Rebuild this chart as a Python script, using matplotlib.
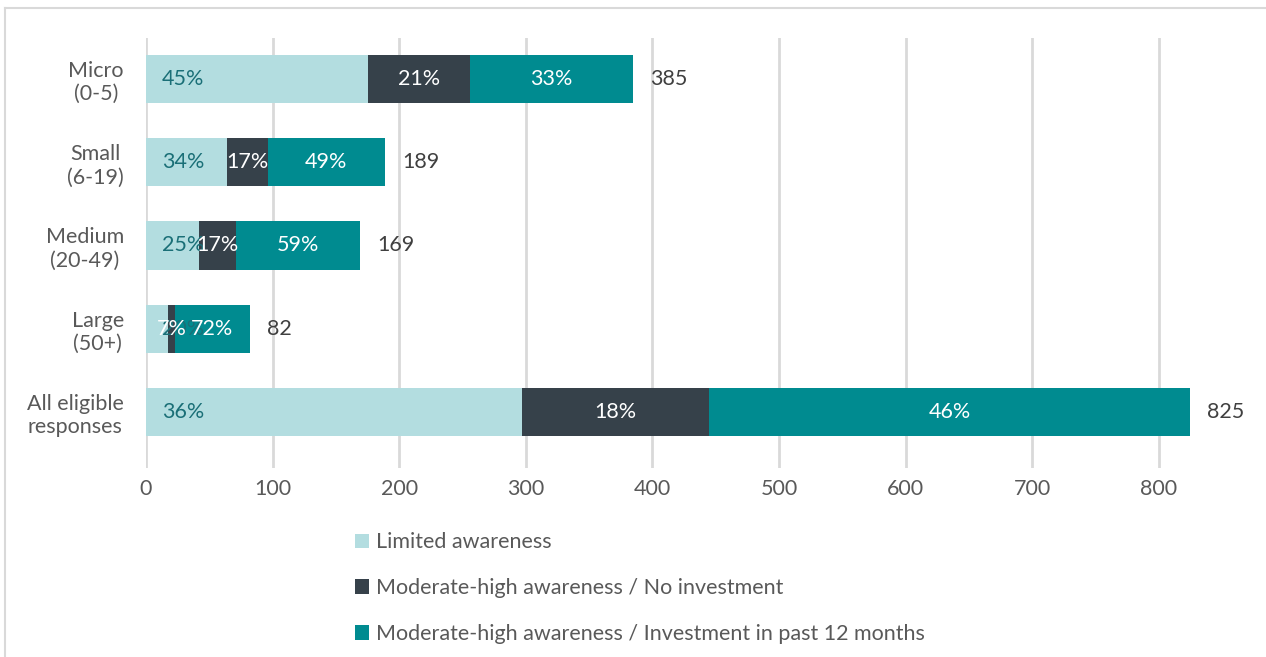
import numpy as np
import matplotlib.pyplot as plt
from matplotlib.lines import Line2D

plt.rcParams['font.family'] = ['Lato', 'DejaVu Sans']

# data (counts per segment)
categories = ['Micro\n(0-5)', 'Small\n(6-19)', 'Medium\n(20-49)', 'Large\n(50+)',
              'All eligible\nresponses']
limited = [175, 64, 42, 17, 297]
no_invest = [81, 32, 29, 6, 148]
invest = [129, 93, 98, 59, 380]
pct_limited = ['45%', '34%', '25%', '20%', '36%']
pct_no_invest = ['21%', '17%', '17%', '7%', '18%']
pct_invest = ['33%', '49%', '59%', '72%', '46%']
series_names = ['Limited awareness',
                'Moderate-high awareness / No investment',
                'Moderate-high awareness / Investment in past 12 months']

c_light = '#b3dde0'
c_dark = '#36414a'
c_teal = '#008b90'

fig = plt.figure(figsize=(12.66, 6.57), dpi=100)
ax = fig.add_axes([146/1266, 1 - 468/657, (1260 - 146)/1266, (468 - 38)/657])

y = np.arange(len(categories))
h = 0.58
limited = np.array(limited)
no_invest = np.array(no_invest)
invest = np.array(invest)
totals = limited + no_invest + invest

b1 = ax.barh(y, limited, h, color=c_light, label=series_names[0], zorder=2)
b2 = ax.barh(y, no_invest, h, left=limited, color=c_dark, label=series_names[1], zorder=2)
b3 = ax.barh(y, invest, h, left=limited + no_invest, color=c_teal,
             label=series_names[2], zorder=2)

fs = 15.5
for i in range(len(categories)):
    ax.annotate(pct_limited[i], (0, y[i]), xytext=(16, 0), textcoords='offset pixels',
                ha='left', va='center', color='#1a6f77', fontsize=fs, zorder=3)
    ax.text(limited[i] + no_invest[i] / 2, y[i], pct_no_invest[i], ha='center',
            va='center', color='white', fontsize=fs, zorder=3)
    ax.text(limited[i] + no_invest[i] + invest[i] / 2, y[i], pct_invest[i], ha='center',
            va='center', color='white', fontsize=fs, zorder=3)
    ax.annotate(str(totals[i]), (totals[i], y[i]), xytext=(17, 0),
                textcoords='offset pixels', ha='left', va='center',
                color='#404040', fontsize=fs, zorder=3)

ax.set_xlim(0, 880)
ax.set_xticks(np.arange(0, 801, 100))
ax.set_ylim(4.675, -0.494)
ax.set_yticks(y)
ax.set_yticklabels(categories, multialignment='center')
ax.tick_params(axis='both', length=0, labelsize=fs, labelcolor='#595959')
ax.tick_params(axis='y', pad=16)
ax.tick_params(axis='x', pad=8)

for s in ax.spines.values():
    s.set_visible(False)
for v in np.arange(0, 801, 100):
    ax.axvline(v, color='#d9d9d9', lw=2, zorder=1)

fig.legend(handles=[b1, b2, b3], loc='upper left', bbox_to_anchor=(336/1266, 1 - 513/657),
           frameon=False, fontsize=fs, labelcolor='#595959', labelspacing=1.2,
           handlelength=0.65, handleheight=0.65, handletextpad=0.3)

# light frame around chart area
fig.add_artist(Line2D([5/1266, 1], [1 - 8/657, 1 - 8/657], color='#d9d9d9', lw=1.5))
fig.add_artist(Line2D([5/1266, 5/1266], [0, 1 - 8/657], color='#d9d9d9', lw=1.5))

fig.savefig('out.png', dpi=100)
